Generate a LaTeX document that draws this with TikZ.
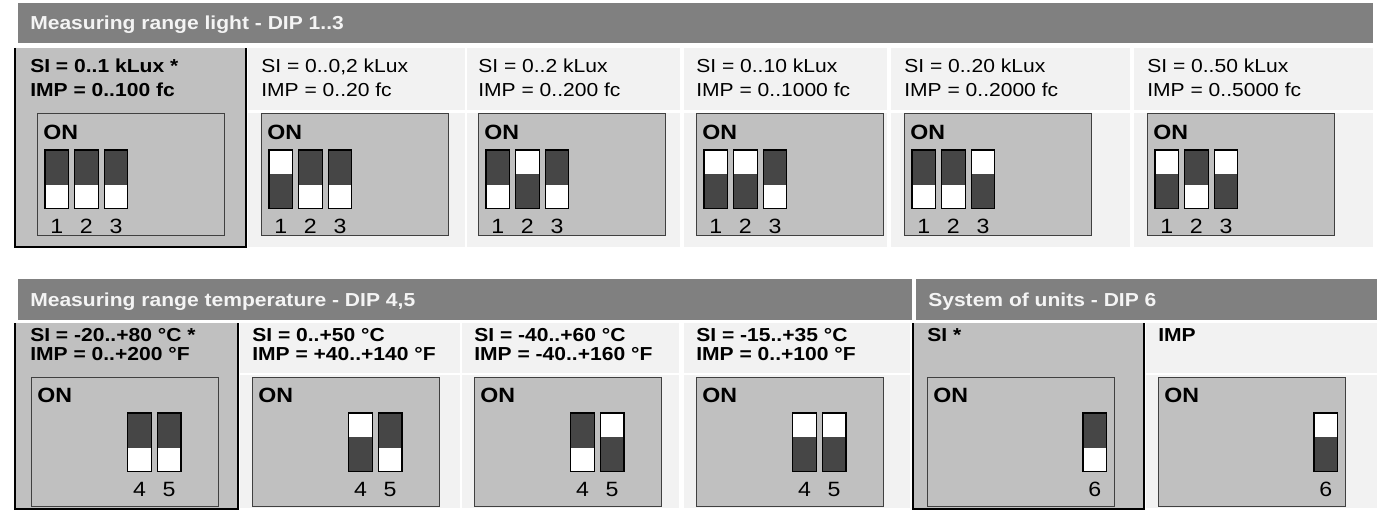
\documentclass[tikz,border=0pt]{standalone}
\usepackage{fontspec}
\setmainfont{Liberation Sans}[FakeStretch=1.12]

\definecolor{barfill}{HTML}{808080}
\definecolor{bartext}{HTML}{F4F4F4}
\definecolor{cellfill}{HTML}{F2F2F2}
\definecolor{selfill}{HTML}{C0C0C0}
\definecolor{leverfill}{HTML}{464646}
\definecolor{boxline}{HTML}{404040}

\newcommand{\rowfont}{\fontsize{14.1}{18}\selectfont}
\newcommand{\lowfont}{\fontsize{14.1}{14.3}\selectfont}
\newcommand{\bigfont}{\fontsize{15.5}{18}\selectfont}

% one DIP lever: box left, box top, switch number, state (1 = ON), name
\newcommand{\dipsw}[5]{%
  \pgfmathsetmacro{\swx}{#1+8+29.6*(#3-1)}%
  \pgfmathsetmacro{\swy}{#2+36}%
  \ifnum#4=1
    \fill[white] (\swx,\swy) rectangle ++(23.5,23.5);
    \fill[leverfill] (\swx,\swy+23.5) rectangle ++(23.5,35);
  \else
    \fill[leverfill] (\swx,\swy) rectangle ++(23.5,35);
    \fill[white] (\swx,\swy+35) rectangle ++(23.5,23.5);
  \fi
  \draw[lever] (\swx,\swy) rectangle ++(23.5,58.5);
  \node[numlabel] (#5) at (\swx+11.75,#2+112) {#3};
}

\begin{document}
\begin{tikzpicture}[x=0.75pt, y=-0.75pt,
  bar/.style={fill=barfill},
  bartitle/.style={anchor=base west, inner sep=0, text=bartext, font=\rowfont\bfseries},
  rangetxt/.style={anchor=north west, inner sep=0, align=left, text=black},
  rangeplain/.style={rangetxt, font=\rowfont},
  rangebold/.style={rangetxt, font=\rowfont\bfseries},
  rangelow/.style={rangetxt, font=\lowfont\bfseries},
  dipbox/.style={draw=boxline, fill=selfill, line width=0.75pt},
  lever/.style={draw=black, line width=0.9pt},
  onlabel/.style={anchor=north west, inner sep=0, font=\bigfont\bfseries},
  numlabel/.style={inner sep=0, font=\bigfont},
  selframe/.style={draw=black, line width=1.5pt}
]
\fill[white] (0,0) rectangle (1383,524);
\useasboundingbox (0,0) rectangle (1383,524);

% measuring range light, DIP 1..3
\fill[bar] (18,3) rectangle (1373,43);
\node[bartitle] (lighttitle) at (30,30) {Measuring range light - DIP 1..3};

\foreach \nm/\xa/\xb/\bx/\tx/\bg/\gap/\st/\txt/\sws in {
  l1/15/246/37/30/selfill/selfill/rangebold/{SI = 0..1 kLux *\\IMP = 0..100 fc}/{1/0,2/0,3/0},
  l2/248/465/261/261/cellfill/white/rangeplain/{SI = 0..0,2 kLux\\IMP = 0..20 fc}/{1/1,2/0,3/0},
  l3/467/680/478/478/cellfill/white/rangeplain/{SI = 0..2 kLux\\IMP = 0..200 fc}/{1/0,2/1,3/0},
  l4/684/887/696/696/cellfill/white/rangeplain/{SI = 0..10 kLux\\IMP = 0..1000 fc}/{1/1,2/1,3/0},
  l5/891/1130/904/904/cellfill/white/rangeplain/{SI = 0..20 kLux\\IMP = 0..2000 fc}/{1/0,2/0,3/1},
  l6/1134/1373/1147/1147/cellfill/white/rangeplain/{SI = 0..50 kLux\\IMP = 0..5000 fc}/{1/1,2/0,3/1}}
{
  \fill[\bg] (\xa,48) rectangle (\xb,110);
  \fill[\gap] (\xa,110) rectangle (\xb,113);
  \fill[\bg] (\xa,113) rectangle (\xb,247);
  \node[\st] (text\nm) at (\tx,59) {\txt};
  \draw[dipbox] (\bx,114) rectangle ++(187,121);
  \node[onlabel] (on\nm) at (\bx+6,124.5) {ON};
  \foreach \n/\s in \sws {\dipsw{\bx}{114}{\n}{\s}{sw\nm-\n}}
}
\draw[selframe] (15,48) -- (15,247) -- (246,247) -- (246,48);

% measuring range temperature, DIP 4,5 and system of units, DIP 6
\fill[bar] (18,279) rectangle (912,320);
\node[bartitle] (temptitle) at (30,306) {Measuring range temperature - DIP 4,5};
\fill[bar] (916,279) rectangle (1377,320);
\node[bartitle] (unittitle) at (928,306) {System of units - DIP 6};

\foreach \nm/\xa/\xb/\bx/\tx/\bg/\gap/\txt/\sws in {
  t1/15/238/31/30/selfill/selfill/{SI = -20..+80 °C *\\IMP = 0..+200 °F}/{4/0,5/0},
  t2/240/460/252/252/cellfill/white/{SI = 0..+50 °C\\IMP = +40..+140 °F}/{4/1,5/0},
  t3/462/679/474/474/cellfill/white/{SI = -40..+60 °C\\IMP = -40..+160 °F}/{4/0,5/1},
  t4/684/910/696/696/cellfill/white/{SI = -15..+35 °C\\IMP = 0..+100 °F}/{4/1,5/1},
  u1/913/1144/927/927/selfill/selfill/{SI *}/{6/0},
  u2/1146/1377/1158/1158/cellfill/white/{IMP}/{6/1}}
{
  \fill[\bg] (\xa,323) rectangle (\xb,373);
  \fill[\gap] (\xa,373) rectangle (\xb,375);
  \fill[\bg] (\xa,375) rectangle (\xb,508);
  \node[rangelow] (text\nm) at (\tx,328) {\txt};
  \draw[dipbox] (\bx,377) rectangle ++(187,129);
  \node[onlabel] (on\nm) at (\bx+6,387.5) {ON};
  \foreach \n/\s in \sws {\dipsw{\bx}{377}{\n}{\s}{sw\nm-\n}}
}
\draw[selframe] (15,323) -- (15,508.5) -- (238,508.5) -- (238,323);
\draw[selframe] (913,323) -- (913,508.5) -- (1144,508.5) -- (1144,323);
\end{tikzpicture}
\end{document}
